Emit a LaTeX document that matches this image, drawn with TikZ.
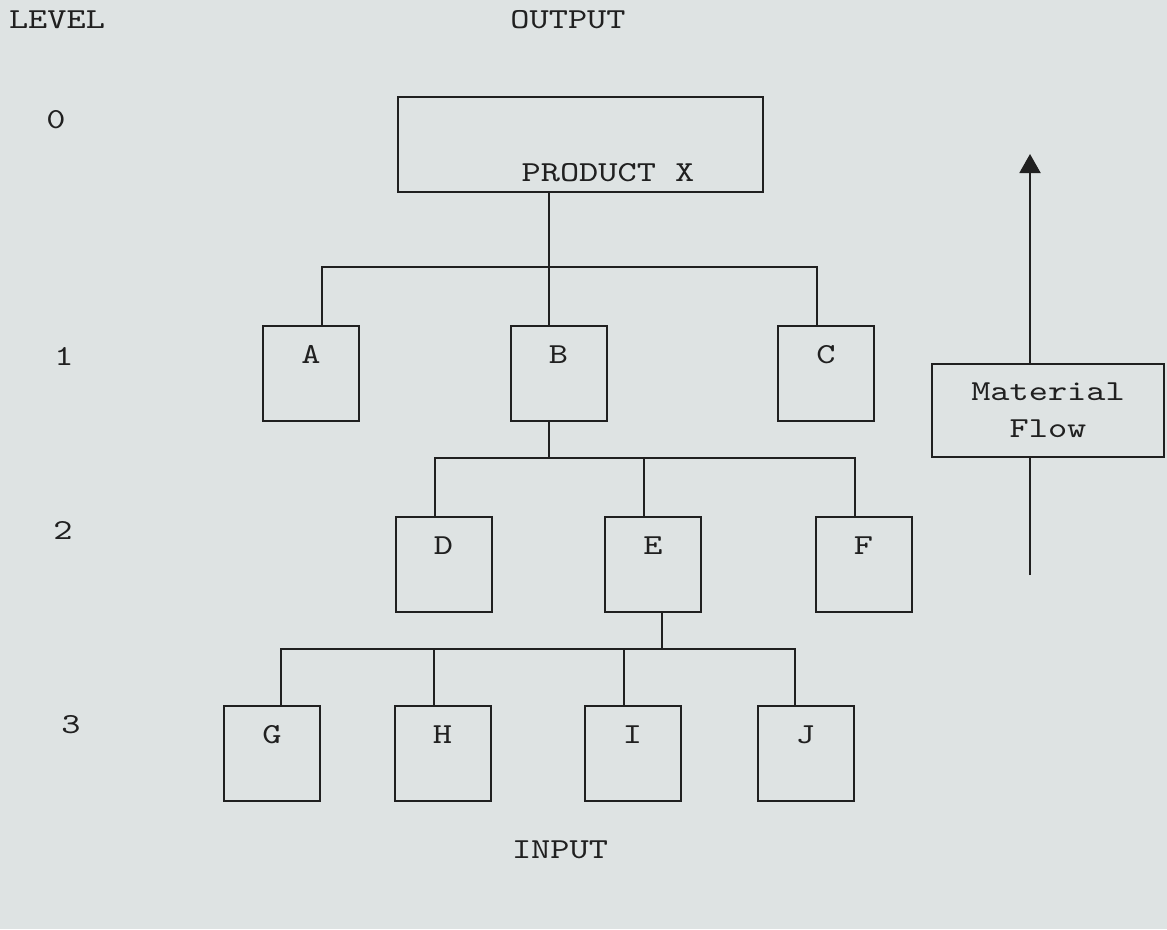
\documentclass[tikz,border=0pt]{standalone}
\usepackage{fontspec}
\usepackage{xcolor}
\usepackage{tikz}
\usetikzlibrary{arrows.meta,positioning,calc}
\newfontfamily\typew{lmmono10-regular.otf}[FakeStretch=1.26]
\definecolor{paper}{RGB}{222,227,227}
\definecolor{ink}{RGB}{32,32,32}
\begin{document}
\begin{tikzpicture}[x=1pt, y=-1pt, line width=2pt, draw=ink,
  every node/.style={font=\typew\fontsize{29}{37}\selectfont, text=ink, inner sep=0pt},
  part/.style={draw, anchor=north, minimum width=96pt, text height=37pt, text depth=58pt}]
\fill[paper] (0,0) rectangle (1167,929);
\useasboundingbox (0,0) rectangle (1167,929);
% headings and levels
\node (lvl) at (57,20) {LEVEL};
\node (out) at (568,20) {OUTPUT};
\node (inp) at (560,850) {INPUT};
\node (l0) at (56,120) {0};
\node (l1) at (64,356) {1};
\node (l2) at (63,530) {2};
\node (l3) at (71,725) {3};
% parts
\node (px) [draw, anchor=north, minimum width=365pt, text height=84.5pt, text depth=10.5pt] at (580.5,96) {\hspace*{55pt}PRODUCT X};
\node (a) [part] at (311,325) {A};
\node (b) [part] at (558.5,325) {B};
\node (c) [part] at (826,325) {C};
\node (d) [part] at (443.5,516) {D};
\node (e) [part] at (653,516) {E};
\node (f) [part] at (863.5,516) {F};
\node (g) [part] at (272,705) {G};
\node (h) [part] at (442.5,705) {H};
\node (i) [part] at (632.5,705) {I};
\node (j) [part] at (805.5,705) {J};
% tree
\coordinate (t0) at (549,267);
\coordinate (t1) at (549,458);
\coordinate (t2) at (662,649);
\draw (px.south -| t0) -- (b.north -| t0);
\draw ([xshift=11pt]a.north) |- (t0) -| ([xshift=-9pt]c.north);
\draw (b.south -| t1) -- (t1);
\draw ([xshift=-8.5pt]d.north) |- (t1) -| ([xshift=-8.5pt]f.north);
\draw ([xshift=-9pt]e.north) -- ([xshift=-9pt]e.north |- t1);
\draw (e.south -| t2) -- (t2);
\draw ([xshift=9pt]g.north) |- (t2) -| ([xshift=-10.5pt]j.north);
\draw ([xshift=-8.5pt]h.north) -- ([xshift=-8.5pt]h.north |- t2);
\draw ([xshift=-8.5pt]i.north) -- ([xshift=-8.5pt]i.north |- t2);
% material flow
\node (mf) [draw, minimum width=232pt, minimum height=93pt, align=center] at (1048,410.5) {Material\\Flow};
\coordinate (fb) at (1030,575);
\coordinate (ft) at (1030,154);
\draw (fb) -- (fb |- mf.south);
\draw[-{Triangle[width=21pt,length=19pt]}] (ft |- mf.north) -- (ft);
\end{tikzpicture}
\end{document}
